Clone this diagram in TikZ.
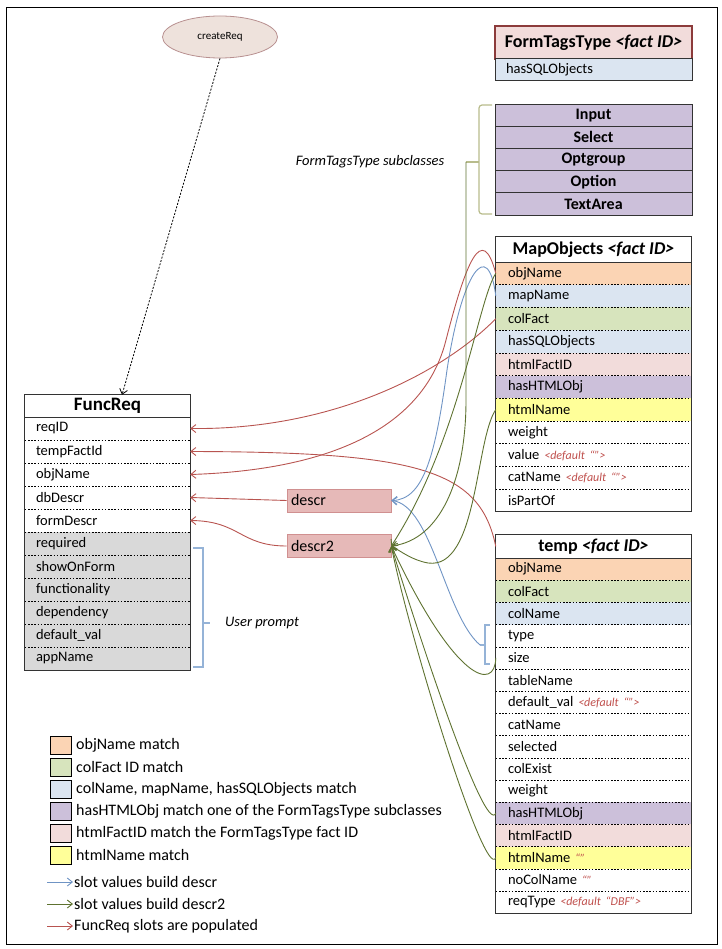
\documentclass[tikz,border=0pt]{standalone}
\usepackage{fontspec}
\setmainfont{Carlito}
\usetikzlibrary{arrows.meta,shapes.geometric}

\definecolor{orangeF}{HTML}{FBD4B4}
\definecolor{greenF}{HTML}{D7E4BD}
\definecolor{blueF}{HTML}{DBE5F1}
\definecolor{purpleF}{HTML}{CCC0DA}
\definecolor{pinkF}{HTML}{F2DCDB}
\definecolor{yellowF}{HTML}{FFFF99}
\definecolor{grayF}{HTML}{D9D9D9}
\definecolor{descrF}{HTML}{E6B9B8}
\definecolor{descrD}{HTML}{D09090}
\definecolor{ellF}{HTML}{EEE2DC}
\definecolor{ellD}{HTML}{B89090}
\definecolor{redL}{HTML}{B85450}
\definecolor{blueL}{HTML}{6F94C4}
\definecolor{greenL}{HTML}{5E7230}
\definecolor{brackG}{HTML}{B8BC8C}
\definecolor{brackB}{HTML}{95B3D7}
\definecolor{noteC}{HTML}{C0504D}
\definecolor{headD}{HTML}{8C3B3B}

\newcommand{\dflt}[1]{{\color{noteC}\itshape\fontsize{12}{13}\selectfont #1}}

\begin{document}
\begin{tikzpicture}[x=1pt,y=-1pt,
  base/.style={font=\fontsize{14.5}{16}\selectfont},
  frrow/.style={base, minimum height=23pt, text width=143pt, inner xsep=11pt, inner ysep=0pt, align=left},
  morow/.style={base, minimum height=22.7pt, text width=171pt, inner xsep=12pt, inner ysep=0pt, align=left},
  tprow/.style={base, minimum height=22.2pt, text width=171pt, inner xsep=12pt, inner ysep=0pt, align=left},
  header/.style={font=\fontsize{18}{20}\selectfont\bfseries, minimum width=195pt, inner sep=0pt},
  subrow/.style={draw=black!80, line width=0.9pt, fill=purpleF, minimum width=197pt, minimum height=22.2pt, inner sep=0pt, font=\fontsize{16}{18}\selectfont\bfseries},
  boxline/.style={draw=black!80, line width=1.1pt},
  sepline/.style={black, line width=1pt, dash pattern=on 1.6pt off 1.6pt},
  tip/.style={-{Straight Barb[length=5pt,width=8pt]}},
  redarrow/.style={tip, redL, line width=0.9pt},
  bluearrow/.style={tip, blueL, line width=0.9pt},
  greenarrow/.style={tip, greenL, line width=0.9pt},
  swatch/.style={draw=black, line width=0.8pt, minimum width=21pt, minimum height=18pt, inner sep=0pt},
  legtext/.style={font=\fontsize{16}{18}\selectfont, anchor=west, inner sep=0pt},
  desc/.style={font=\fontsize{16}{18}\selectfont, fill=descrF, draw=descrD, line width=0.6pt, minimum width=104pt, minimum height=23pt, text width=96pt, inner xsep=4pt, inner ysep=0pt, align=left},
  note/.style={font=\fontsize{14.5}{16}\selectfont\itshape, inner sep=0pt}
]
\useasboundingbox (0,0) rectangle (721,949);
\draw[line width=1pt] (6,8) rectangle (717,944);

% ---------- createReq ----------
\node[ellipse, fill=ellF, draw=ellD, line width=0.8pt, minimum width=115pt, minimum height=42pt,
      inner sep=0pt, font=\fontsize{11}{12}\selectfont] (cr) at (220,37) {createReq};

% ---------- FormTagsType ----------
\node[header, minimum width=197pt, minimum height=33pt, fill=pinkF, draw=headD, line width=1.1pt]
  (fth) at (593.5,42.5) {FormTagsType \textit{<fact ID>}};
\node[base, minimum width=197pt, minimum height=22pt, text width=175pt, inner xsep=11pt, inner ysep=0pt,
      align=left, fill=blueF, draw=black!80, line width=1pt] (ft1) at (593.5,70) {hasSQLObjects};

% ---------- subclasses ----------
\foreach \i/\t in {1/Input, 2/Select, 3/Optgroup, 4/Option, 5/TextArea}
  \node[subrow] (sc\i) at (593.5,{104+22.2*(\i-0.5)}) {\t};
\draw[brackG, line width=1.2pt, rounded corners=3pt] (492,105) -- (479,105) -- (479,214) -- (492,214);
\coordinate (scb) at (466,162);
\draw[brackG, line width=1.2pt] (479,162) -- (scb);
\node[note] (scl) at (370,162) {FormTagsType subclasses};

% ---------- FuncReq ----------
\node[header, minimum width=165pt, minimum height=22pt, font=\fontsize{19}{21}\selectfont\bfseries] (frh) at (107.5,406) {FuncReq};
\foreach \i/\t/\c in {1/reqID/white, 2/tempFactId/white, 3/objName/white, 4/dbDescr/white, 5/formDescr/white,
                      6/required/grayF, 7/showOnForm/grayF, 8/functionality/grayF, 9/dependency/grayF,
                      10/default\_val/grayF, 11/appName/grayF}
  \node[frrow, fill=\c] (fr\i) at (107.5,{417+23*(\i-0.5)}) {\t};
\foreach \i in {1,...,10}
  \draw[sepline] (fr\i.south west) -- (fr\i.south east);
\draw[boxline] (frh.south west) -- (frh.south east);
\draw[boxline] (frh.north west) rectangle (fr11.south east);

% user prompt bracket
\draw[brackB, line width=1.1pt] (193,548) -- (203,548) -- (203,667) -- (193,667);
\coordinate (upb) at (210,623);
\draw[brackB, line width=1.1pt] (203,623) -- (upb);
\node[note] (upl) at (262,623) {User prompt};

% ---------- MapObjects ----------
\node[header, minimum height=25pt] (moh) at (593.5,249.5) {MapObjects \textit{<fact ID>}};
\foreach \i/\t/\c in {1/objName/orangeF, 2/mapName/blueF, 3/colFact/greenF, 4/hasSQLObjects/blueF,
                      5/htmlFactID/pinkF, 6/hasHTMLObj/purpleF, 7/htmlName/yellowF, 8/weight/white,
                      9/{value \dflt{<default “”>}}/white, 10/{catName \dflt{<default “”>}}/white, 11/isPartOf/white}
  \node[morow, fill=\c] (mo\i) at (593.5,{262+22.7*(\i-0.5)}) {\t};
\foreach \i in {1,...,10}
  \draw[sepline] (mo\i.south west) -- (mo\i.south east);
\draw[boxline] (moh.south west) -- (moh.south east);
\draw[boxline] (moh.north west) rectangle (mo11.south east);

% ---------- temp ----------
\node[header, minimum height=23pt] (tph) at (593.5,546.5) {temp \textit{<fact ID>}};
\foreach \i/\t/\c in {1/objName/orangeF, 2/colFact/greenF, 3/colName/blueF, 4/type/white, 5/size/white,
                      6/tableName/white, 7/{default\_val \dflt{<default “”>}}/white, 8/catName/white,
                      9/selected/white, 10/colExist/white, 11/weight/white, 12/hasHTMLObj/purpleF,
                      13/htmlFactID/pinkF, 14/{htmlName \dflt{“”}}/yellowF, 15/{noColName \dflt{“”}}/white,
                      16/{reqType \dflt{<default “DBF”>}}/white}
  \node[tprow, fill=\c] (tp\i) at (593.5,{558+22.2*(\i-0.5)}) {\t};
\foreach \i in {1,...,15}
  \draw[sepline] (tp\i.south west) -- (tp\i.south east);
\draw[boxline] (tph.south west) -- (tph.south east);
\draw[boxline] (tph.north west) rectangle (tp16.south east);

% bracket beside type / size
\draw[brackB, line width=1.1pt] (490,625) -- (485,625) -- (485,664) -- (490,664);
\coordinate (tsb) at (480,645);
\draw[brackB, line width=1.1pt] (485,645) -- (tsb);

% ---------- descr nodes ----------
\node[desc] (d1) at (339,500.5) {descr};
\node[desc] (d2) at (339,546) {descr2};

% ---------- connectors ----------
\draw[tip, black, line width=0.8pt, dash pattern=on 2pt off 1.5pt] (cr.south) -- (frh.north -| 122,0);

% FuncReq slots are populated
\draw[redarrow] (mo3.west) .. controls (440,375) and (330,430) .. (fr1.east);
\draw[redarrow] (tph.west) .. controls (480,470) and (420,452) .. (fr2.east);
\draw[redarrow] (mo1.west) .. controls (482,222) and (466,262) .. (446,340)
                .. controls (424,428) and (330,470) .. (fr3.east);
\draw[redarrow] (d1.west) -- (fr4.east);
\draw[redarrow] (d2.west) .. controls (240,546) and (240,521) .. (fr5.east);

% slot values build descr
\draw[bluearrow] (mo2.west) .. controls (488,236) and (462,272) .. (447,370)
                 .. controls (436,450) and (425,500) .. (d1.east);
\draw[bluearrow] (tsb) .. controls (445,615) and (432,505) .. (d1.east);

% slot values build descr2
\draw[greenarrow] (scb) -- (466,400) .. controls (466,480) and (440,540) .. (d2.east);
\draw[greenarrow] (mo1.west) .. controls (478,300) and (460,440) .. (d2.east);
\draw[greenarrow] (mo7.west) .. controls (475,440) and (478,570) .. (428,563)
                  .. controls (412,560) and (402,552) .. (d2.east);
\draw[greenarrow] (tp5.west) .. controls (495,692) and (455,682) .. (d2.east);
\draw[greenarrow] (tp12.west) .. controls (485,836) and (420,640) .. (d2.east);
\draw[greenarrow] (tp14.west) .. controls (485,882) and (410,640) .. (d2.east);

% ---------- legend ----------
\foreach \i/\c/\t in {1/orangeF/objName match, 2/greenF/colFact ID match,
                      3/blueF/{colName, mapName, hasSQLObjects match},
                      4/purpleF/hasHTMLObj match one of the FormTagsType subclasses,
                      5/pinkF/htmlFactID match the FormTagsType fact ID, 6/yellowF/htmlName match}
{
  \node[swatch, fill=\c] (sw\i) at (61,{745+22*(\i-1)}) {};
  \node[legtext] (lt\i) at (76,{745+22*(\i-1)}) {\t};
}
\coordinate (la1s) at (47,882); \coordinate (la1e) at (73,882);
\coordinate (la2s) at (47,904); \coordinate (la2e) at (73,904);
\coordinate (la3s) at (47,926); \coordinate (la3e) at (73,926);
\draw[bluearrow] (la1s) -- (la1e);
\draw[greenarrow] (la2s) -- (la2e);
\draw[redarrow] (la3s) -- (la3e);
\node[legtext] (lt7) at (74,882) {slot values build descr};
\node[legtext] (lt8) at (74,904) {slot values build descr2};
\node[legtext] (lt9) at (74,926) {FuncReq slots are populated};
\end{tikzpicture}
\end{document}
